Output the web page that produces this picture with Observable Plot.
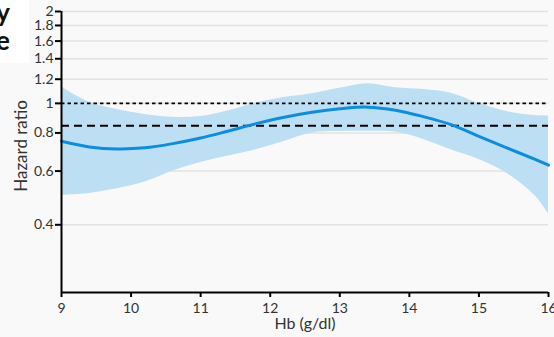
<!DOCTYPE html>
<html>
<head>
<meta charset="utf-8">
<script src="https://cdn.jsdelivr.net/npm/d3@7"></script>
<script src="https://cdn.jsdelivr.net/npm/@observablehq/plot@0.6"></script>
<style>
  html, body { margin: 0; padding: 0; background: #f9f9f9; overflow: hidden; }
  #wrap { position: relative; width: 554px; height: 337px; }
  #title { position: absolute; left: 0; top: 0; width: 29px; height: 63px; background: #ffffff; overflow: hidden;
           font-family: Lato, "Open Sans", sans-serif; font-weight: bold; font-size: 26px; color: #111; }
  #title span { position: absolute; right: 19px; line-height: 1; }
</style>
</head>
<body>
<div id="wrap">
  <div id="chart"></div>
  <div id="title"><span style="top:-1px">y</span><span style="top:27px">e</span></div>
</div>
<script>
const hb = [9, 9.4, 9.8, 10.2, 10.6, 11.0, 11.4, 11.8, 12.2, 12.6, 13.0, 13.4, 13.8, 14.2, 14.6, 15.0, 15.4, 15.8, 16];
const hr = [0.751, 0.72, 0.709, 0.715, 0.738, 0.77, 0.812, 0.858, 0.90, 0.935, 0.960, 0.972, 0.950, 0.905, 0.852, 0.780, 0.715, 0.656, 0.627];
const upper = [1.131, 1.008, 0.955, 0.92, 0.900, 0.905, 0.945, 1.003, 1.045, 1.075, 1.12, 1.16, 1.125, 1.11, 1.08, 1.0, 0.94, 0.912, 0.909];
const lower = [0.500, 0.507, 0.525, 0.552, 0.600, 0.640, 0.672, 0.705, 0.75, 0.80, 0.808, 0.81, 0.805, 0.762, 0.705, 0.655, 0.59, 0.50, 0.435];
const xTicks = [9, 10, 11, 12, 13, 14, 15, 16];
const yTicks = [0.4, 0.6, 0.8, 1, 1.2, 1.4, 1.6, 1.8, 2];
const refLine = 1;
const overallHR = 0.845;

const data = hb.map((x, i) => ({hb: x, hr: hr[i], lo: lower[i], hi: upper[i]}));
const yMin = 0.24, yMax = 2;

const chart = Plot.plot({
  width: 554,
  height: 337,
  marginLeft: 61,
  marginRight: 6,
  marginTop: 11,
  marginBottom: 45,
  style: {background: "#f9f9f9", fontFamily: "Lato, 'Open Sans', sans-serif", fontSize: "14px", color: "#333"},
  x: {domain: [9, 16], label: null},
  y: {type: "log", domain: [yMin, yMax], label: null},
  marks: [
    Plot.ruleY(yTicks, {stroke: "#e2e2e2", strokeWidth: 1.5}),
    Plot.areaY(data, {x: "hb", y1: "lo", y2: "hi", fill: "#bcdff3", curve: "catmull-rom"}),
    Plot.ruleY([refLine], {stroke: "#000", strokeWidth: 1.6, strokeDasharray: "3.5,3"}),
    Plot.ruleY([overallHR], {stroke: "#000", strokeWidth: 2, strokeDasharray: "8,5"}),
    Plot.lineY(data, {x: "hb", y: "hr", stroke: "#0b8de0", strokeWidth: 3, curve: "catmull-rom"}),
    Plot.axisX({ticks: xTicks, tickSize: 5, tickPadding: 6, tickFormat: d => String(d), label: null, stroke: "#000", strokeWidth: 2, fill: "#333", fontSize: 14}),
    Plot.axisY({ticks: yTicks, tickSize: 6, tickPadding: 2, tickFormat: d => String(d), label: null, stroke: "#000", strokeWidth: 2, fill: "#333", fontSize: 14}),
    Plot.ruleX([9], {y1: yMin, y2: yMax, stroke: "#000", strokeWidth: 2}),
    Plot.ruleY([yMin], {stroke: "#000", strokeWidth: 2}),
    Plot.text(["Hb (g/dl)"], {frameAnchor: "bottom", textAnchor: "middle", dy: 36, fontSize: 16, fill: "#333"}),
    Plot.text(["Hazard ratio"], {frameAnchor: "left", textAnchor: "middle", dx: -40, dy: -6, rotate: -90, fontSize: 17, fill: "#333"})
  ]
});
document.getElementById("chart").appendChild(chart);
</script>
</body>
</html>
